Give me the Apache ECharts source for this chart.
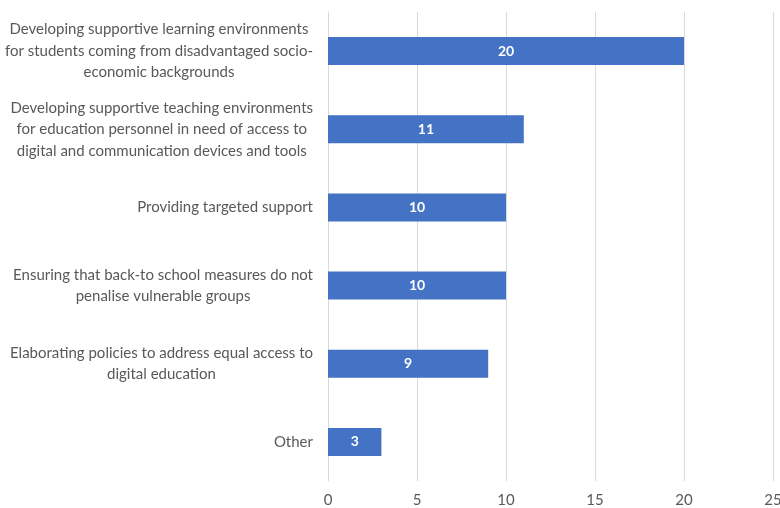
<!DOCTYPE html>
<html>
<head>
<meta charset="utf-8">
<script src="https://cdn.jsdelivr.net/npm/echarts@6/dist/echarts.min.js"></script>
<style>
  html, body { margin: 0; padding: 0; background: #ffffff; }
  #chart { width: 780px; height: 508px; }
</style>
</head>
<body>
<div id="chart"></div>
<script>
// Measure categories, each label split into its display lines
const categories = [
  ['Developing supportive learning environments', 'for students coming from disadvantaged socio-', 'economic backgrounds'],
  ['Developing supportive teaching environments', 'for education personnel in need of access to', 'digital and communication devices and tools'],
  ['Providing targeted support'],
  ['Ensuring that back-to school measures do not', 'penalise vulnerable groups'],
  ['Elaborating policies to address equal access to', 'digital education'],
  ['Other']
];
const counts = [20, 11, 10, 10, 9, 3];
const xTicks = [0, 5, 10, 15, 20, 25];

const FONT = 'Lato, "Open Sans", sans-serif';
const chart = echarts.init(document.getElementById('chart'), null, { renderer: 'canvas' });

chart.setOption({
  animation: false,
  backgroundColor: '#ffffff',
  grid: { left: 328, right: 7, top: 12, bottom: 27, containLabel: false, outerBoundsMode: 'none' },
  xAxis: {
    type: 'value',
    min: xTicks[0],
    max: xTicks[xTicks.length - 1],
    interval: xTicks[1] - xTicks[0],
    axisLine: { show: false },
    axisTick: { show: false },
    splitLine: { show: true, lineStyle: { color: '#d9d9d9', width: 1 } },
    axisLabel: { color: '#595959', fontSize: 15, fontFamily: FONT, margin: 12 }
  },
  yAxis: {
    type: 'category',
    inverse: true,
    data: categories.map(lines => lines.join('\n')),
    axisLine: { show: true, lineStyle: { color: '#d9d9d9', width: 1 } },
    axisTick: { show: false },
    axisLabel: {
      margin: 15,
      color: '#595959',
      fontSize: 15,
      fontFamily: FONT,
      lineHeight: 21.5,
      formatter: value => value.split('\n').map(l => '{c|' + l + '}').join('\n'),
      rich: {
        c: { align: 'center', color: '#595959', fontSize: 15, fontFamily: FONT, lineHeight: 21.5 }
      }
    }
  },
  series: [{
    type: 'bar',
    data: counts,
    barWidth: 28,
    itemStyle: { color: '#4472c4' },
    label: {
      show: true,
      position: 'inside',
      color: '#ffffff',
      fontWeight: 'bold',
      fontSize: 14,
      fontFamily: FONT
    }
  }]
});
</script>
</body>
</html>
